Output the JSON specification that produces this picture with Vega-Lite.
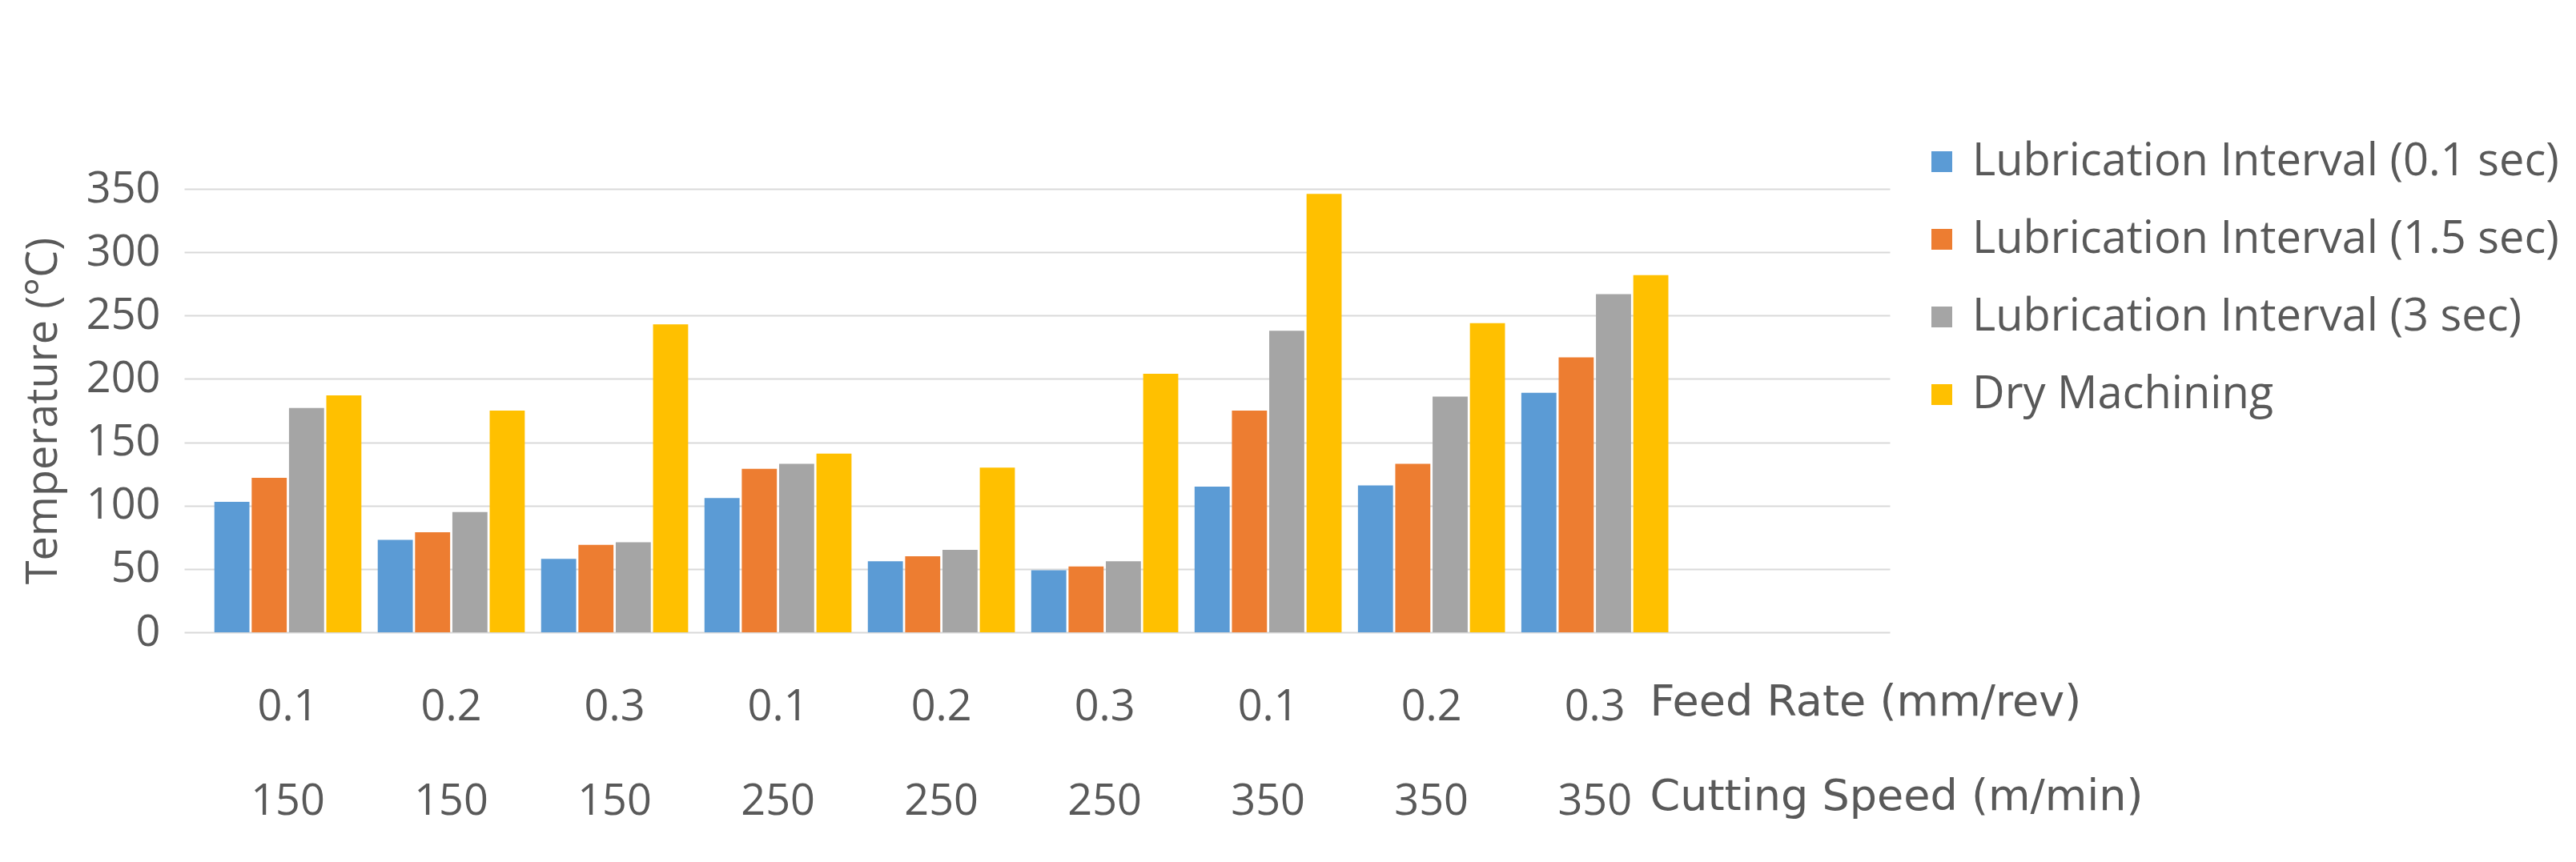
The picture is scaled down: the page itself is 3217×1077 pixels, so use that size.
{
  "$schema": "https://vega.github.io/schema/vega-lite/v6.json",
  "width": 2130,
  "height": 554,
  "autosize": "none",
  "padding": {"left": 230, "top": 236, "right": 857, "bottom": 287},
  "background": "white",
  "data": {
    "values": [
      {"group": "0.1|150", "series": "Lubrication Interval (0.1 sec)", "temp": 103},
      {"group": "0.2|150", "series": "Lubrication Interval (0.1 sec)", "temp": 73},
      {"group": "0.3|150", "series": "Lubrication Interval (0.1 sec)", "temp": 58},
      {"group": "0.1|250", "series": "Lubrication Interval (0.1 sec)", "temp": 106},
      {"group": "0.2|250", "series": "Lubrication Interval (0.1 sec)", "temp": 56},
      {"group": "0.3|250", "series": "Lubrication Interval (0.1 sec)", "temp": 49},
      {"group": "0.1|350", "series": "Lubrication Interval (0.1 sec)", "temp": 115},
      {"group": "0.2|350", "series": "Lubrication Interval (0.1 sec)", "temp": 116},
      {"group": "0.3|350", "series": "Lubrication Interval (0.1 sec)", "temp": 189},
      {"group": "0.1|150", "series": "Lubrication Interval (1.5 sec)", "temp": 122},
      {"group": "0.2|150", "series": "Lubrication Interval (1.5 sec)", "temp": 79},
      {"group": "0.3|150", "series": "Lubrication Interval (1.5 sec)", "temp": 69},
      {"group": "0.1|250", "series": "Lubrication Interval (1.5 sec)", "temp": 129},
      {"group": "0.2|250", "series": "Lubrication Interval (1.5 sec)", "temp": 60},
      {"group": "0.3|250", "series": "Lubrication Interval (1.5 sec)", "temp": 52},
      {"group": "0.1|350", "series": "Lubrication Interval (1.5 sec)", "temp": 175},
      {"group": "0.2|350", "series": "Lubrication Interval (1.5 sec)", "temp": 133},
      {"group": "0.3|350", "series": "Lubrication Interval (1.5 sec)", "temp": 217},
      {"group": "0.1|150", "series": "Lubrication Interval (3 sec)", "temp": 177},
      {"group": "0.2|150", "series": "Lubrication Interval (3 sec)", "temp": 95},
      {"group": "0.3|150", "series": "Lubrication Interval (3 sec)", "temp": 71},
      {"group": "0.1|250", "series": "Lubrication Interval (3 sec)", "temp": 133},
      {"group": "0.2|250", "series": "Lubrication Interval (3 sec)", "temp": 65},
      {"group": "0.3|250", "series": "Lubrication Interval (3 sec)", "temp": 56},
      {"group": "0.1|350", "series": "Lubrication Interval (3 sec)", "temp": 238},
      {"group": "0.2|350", "series": "Lubrication Interval (3 sec)", "temp": 186},
      {"group": "0.3|350", "series": "Lubrication Interval (3 sec)", "temp": 267},
      {"group": "0.1|150", "series": "Dry Machining", "temp": 187},
      {"group": "0.2|150", "series": "Dry Machining", "temp": 175},
      {"group": "0.3|150", "series": "Dry Machining", "temp": 243},
      {"group": "0.1|250", "series": "Dry Machining", "temp": 141},
      {"group": "0.2|250", "series": "Dry Machining", "temp": 130},
      {"group": "0.3|250", "series": "Dry Machining", "temp": 204},
      {"group": "0.1|350", "series": "Dry Machining", "temp": 346},
      {"group": "0.2|350", "series": "Dry Machining", "temp": 244},
      {"group": "0.3|350", "series": "Dry Machining", "temp": 282}
    ]
  },
  "mark": {"type": "bar"},
  "encoding": {
    "x": {
      "field": "group",
      "type": "nominal",
      "sort": null,
      "scale": {"paddingInner": 0.1, "paddingOuter": 0.77, "align": 0.12},
      "axis": {
        "labelAngle": 0,
        "labelExpr": "split(datum.label, '|')",
        "labelLineHeight": 118,
        "labelPadding": 66,
        "labelFontSize": 54,
        "labelColor": "#595959",
        "domain": false,
        "ticks": false,
        "title": ["Feed Rate (mm/rev)", "Cutting Speed (m/min)"],
        "titleX": 1830,
        "titleY": 60,
        "titleAlign": "left",
        "titleBaseline": "top",
        "titleAngle": 0,
        "titleLineHeight": 118,
        "titleFont": "DejaVu Sans",
        "titleFontSize": 54,
        "titleFontWeight": "normal",
        "titleColor": "#595959"
      }
    },
    "xOffset": {
      "field": "series",
      "type": "nominal",
      "sort": ["Lubrication Interval (0.1 sec)", "Lubrication Interval (1.5 sec)", "Lubrication Interval (3 sec)", "Dry Machining"],
      "scale": {"paddingInner": 0.06}
    },
    "y": {
      "field": "temp",
      "type": "quantitative",
      "scale": {"domain": [0, 350]},
      "axis": {
        "values": [0, 50, 100, 150, 200, 250, 300, 350],
        "grid": true,
        "gridColor": "#d9d9d9",
        "gridWidth": 2,
        "domain": false,
        "ticks": false,
        "labelFontSize": 54,
        "labelColor": "#595959",
        "labelPadding": 30,
        "title": "Temperature (°C)",
        "titleFontSize": 54,
        "titleFontWeight": "normal",
        "titleColor": "#595959",
        "titlePadding": 26
      }
    },
    "color": {
      "field": "series",
      "type": "nominal",
      "scale": {
        "domain": ["Lubrication Interval (0.1 sec)", "Lubrication Interval (1.5 sec)", "Lubrication Interval (3 sec)", "Dry Machining"],
        "range": ["#5B9BD5", "#ED7D31", "#A5A5A5", "#FFC000"]
      },
      "legend": {
        "orient": "none",
        "legendX": 2167,
        "legendY": -62,
        "title": null,
        "symbolType": "square",
        "symbolSize": 676,
        "symbolStrokeWidth": 0,
        "labelFont": "Liberation Sans Narrow, Open Sans",
        "labelFontSize": 56,
        "labelColor": "#595959",
        "labelOffset": 10,
        "labelLimit": 900,
        "rowPadding": 41
      }
    }
  },
  "config": {
    "font": "Open Sans",
    "view": {"stroke": null}
  }
}
